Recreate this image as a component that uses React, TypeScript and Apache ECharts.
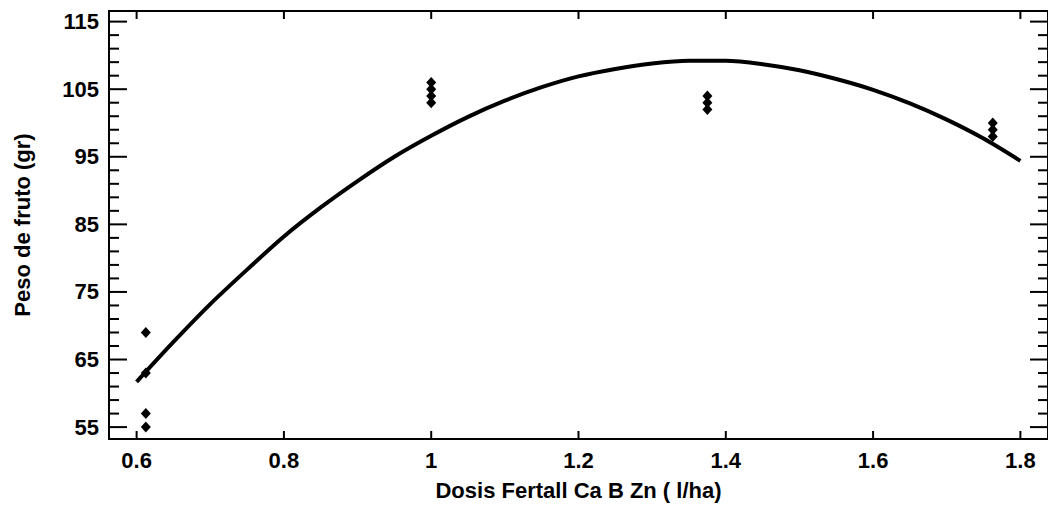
import React, { useEffect, useRef } from "react";
import * as echarts from "echarts";

// Fitted curve
const curveX = [0.6, 0.65, 0.7, 0.75, 0.8, 0.85, 0.9, 0.95, 1.0, 1.05, 1.1, 1.15, 1.2, 1.25, 1.3, 1.35, 1.4, 1.45, 1.5, 1.55, 1.6, 1.65, 1.7, 1.75, 1.8];
const curveY = [61.7, 67.6, 73.2, 78.3, 83.2, 87.5, 91.4, 95.0, 98.1, 100.9, 103.3, 105.3, 106.9, 108.0, 108.8, 109.2, 109.2, 108.7, 107.8, 106.5, 104.9, 102.9, 100.5, 97.7, 94.4];

// Observations
const obsDosis = [0.6125, 0.6125, 0.6125, 0.6125, 1.0, 1.0, 1.0, 1.0, 1.375, 1.375, 1.375, 1.7625, 1.7625, 1.7625];
const obsPeso = [69, 63, 57, 55, 106, 105, 104, 103, 104, 103, 102, 100, 99, 98];

// Ticks
const xTicks = [0.6, 0.8, 1.0, 1.2, 1.4, 1.6, 1.8];
const yTicks = [55, 65, 75, 85, 95, 105, 115];
const yMinorTicks = [57, 59, 61, 63, 67, 69, 71, 73, 77, 79, 81, 83, 87, 89, 91, 93, 97, 99, 101, 103, 107, 109, 111, 113];

// Frame extent (data units)
const X_MIN = 0.5625;
const X_MAX = 1.8375;
const Y_MIN = 53.24;
const Y_MAX = 116.57;

const FONT = "'Liberation Sans', Arial, sans-serif";

export default function App() {
  const ref = useRef<HTMLDivElement>(null);

  useEffect(() => {
    if (!ref.current) return;
    const chart = echarts.init(ref.current, undefined, { renderer: "svg" });
    const fmtX = (v: number) => (Math.abs(v - 1) < 1e-9 ? "1" : (Math.round(v * 10) / 10).toString());
    const frameLine = { show: true, onZero: false, lineStyle: { color: "#000", width: 2 } };
    const textStyle = { color: "#000", fontSize: 22, fontWeight: "bold" as const, fontFamily: FONT };
    const tickLine = (x1: number, y1: number, x2: number, y2: number) => ({
      type: "line",
      shape: { x1, y1, x2, y2 },
      style: { stroke: "#000", lineWidth: 2 },
    });

    const xTickRender = (_p: any, api: any) => {
      const v = api.value(0);
      const b = api.coord([v, Y_MIN]);
      const t = api.coord([v, Y_MAX]);
      return {
        type: "group",
        children: [tickLine(b[0], b[1], b[0], b[1] - 8), tickLine(t[0], t[1], t[0], t[1] + 8)],
      };
    };
    const yTickRender = (len: number) => (_p: any, api: any) => {
      const v = api.value(1);
      const l = api.coord([X_MIN, v]);
      const r = api.coord([X_MAX, v]);
      return {
        type: "group",
        children: [tickLine(l[0], l[1], l[0] + len, l[1]), tickLine(r[0], r[1], r[0] - len, r[1])],
      };
    };

    chart.setOption({
      animation: false,
      backgroundColor: "#fff",
      grid: { left: 109, top: 11, right: -6.5, bottom: 64, containLabel: false },
      xAxis: [
        {
          type: "value",
          position: "bottom",
          min: X_MIN,
          max: X_MAX,
          axisLine: frameLine,
          axisTick: { show: false },
          splitLine: { show: false },
          axisLabel: { show: true, customValues: xTicks, formatter: fmtX, margin: 10, ...textStyle },
          name: "Dosis Fertall Ca B Zn ( l/ha)",
          nameLocation: "middle",
          nameGap: 40,
          nameTextStyle: textStyle,
        },
        {
          type: "value",
          position: "top",
          min: X_MIN,
          max: X_MAX,
          axisLine: frameLine,
          axisTick: { show: false },
          splitLine: { show: false },
          axisLabel: { show: false },
        },
      ],
      yAxis: [
        {
          type: "value",
          position: "left",
          min: Y_MIN,
          max: Y_MAX,
          axisLine: frameLine,
          axisTick: { show: false },
          splitLine: { show: false },
          axisLabel: { show: true, customValues: yTicks, margin: 10, ...textStyle },
          name: "Peso de fruto (gr)",
          nameLocation: "middle",
          nameGap: 76,
          nameRotate: 90,
          nameTextStyle: textStyle,
        },
        {
          type: "value",
          position: "right",
          min: Y_MIN,
          max: Y_MAX,
          axisLine: frameLine,
          axisTick: { show: false },
          splitLine: { show: false },
          axisLabel: { show: false },
        },
      ],
      series: [
        {
          type: "custom",
          xAxisIndex: 0,
          yAxisIndex: 0,
          data: xTicks.map((v) => [v, Y_MIN]),
          renderItem: xTickRender,
          clip: false,
          silent: true,
          z: 1,
        },
        {
          type: "custom",
          xAxisIndex: 0,
          yAxisIndex: 0,
          data: yTicks.map((v) => [X_MIN, v]),
          renderItem: yTickRender(18),
          clip: false,
          silent: true,
          z: 1,
        },
        {
          type: "custom",
          xAxisIndex: 0,
          yAxisIndex: 0,
          data: yMinorTicks.map((v) => [X_MIN, v]),
          renderItem: yTickRender(10),
          clip: false,
          silent: true,
          z: 1,
        },
        {
          type: "line",
          xAxisIndex: 0,
          yAxisIndex: 0,
          data: curveX.map((x, i) => [x, curveY[i]]),
          showSymbol: false,
          smooth: 0.3,
          clip: false,
          lineStyle: { color: "#000", width: 4 },
          z: 2,
        },
        {
          type: "scatter",
          xAxisIndex: 0,
          yAxisIndex: 0,
          data: obsDosis.map((x, i) => [x, obsPeso[i]]),
          symbol: "diamond",
          symbolSize: [10, 11],
          clip: false,
          itemStyle: { color: "#000", opacity: 1 },
          z: 3,
        },
      ],
    });
    return () => chart.dispose();
  }, []);

  return <div ref={ref} style={{ position: "fixed", left: 0, top: 0, width: 1048, height: 506, background: "#fff" }} />;
}
